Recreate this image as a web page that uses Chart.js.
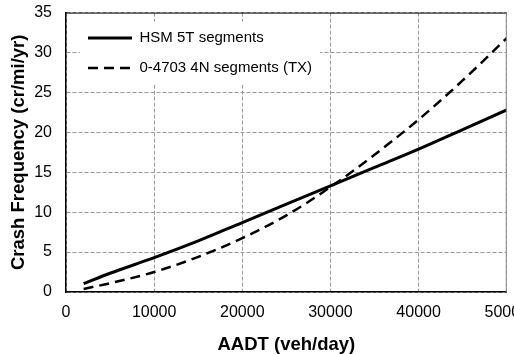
<!DOCTYPE html>
<html>
<head>
<meta charset="utf-8">
<script src="https://cdn.jsdelivr.net/npm/chart.js@4/dist/chart.umd.min.js"></script>
<style>
html, body { margin: 0; padding: 0; background: #fff; overflow: hidden; }
#wrap { width: 540px; height: 354px; }
</style>
</head>
<body>
<div id="wrap"><canvas id="c" width="540" height="354"></canvas></div>
<script>
// ---- data ----
const aadt = [2000, 5000, 10000, 15000, 20000, 25000, 30000, 35000, 40000, 45000, 50000];
const hsm5T = [1.05, 2.35, 4.3, 6.4, 8.7, 11.0, 13.3, 15.6, 17.9, 20.35, 22.8];
const tx4N = [0.38, 1.1, 2.5, 4.4, 6.75, 9.6, 13.15, 17.2, 21.6, 26.5, 31.8];
const seriesNames = ['HSM 5T segments', '0-4703 4N segments (TX)'];
const xTitle = 'AADT (veh/day)';
const yTitle = 'Crash Frequency (cr/mi/yr)';
const xTickStep = 10000, xMin = 0, xMax = 50000;
const yTickStep = 5, yMin = 0, yMax = 35;

const toPts = (xs, ys) => xs.map((x, i) => ({ x: x, y: ys[i] }));

const FONT = "'Liberation Sans', Arial, sans-serif";

const legendBoxPlugin = {
  id: 'legendBox',
  afterLayout(chart) {
    const lg = chart.legend, a = chart.chartArea;
    if (lg) {
      lg.left = a.left + 7;
      lg.top = a.top + 3;
      lg.right = lg.left + lg.width;
      lg.bottom = lg.top + lg.height;
    }
  },
  afterDraw(chart) {
    const ctx = chart.ctx, a = chart.chartArea;
    ctx.save();
    ctx.lineWidth = 1;
    ctx.strokeStyle = '#000';
    ctx.beginPath(); ctx.moveTo(a.left, a.top + 0.5); ctx.lineTo(a.right, a.top + 0.5); ctx.stroke();
    ctx.strokeStyle = '#888';
    ctx.beginPath(); ctx.moveTo(a.right - 0.5, a.top); ctx.lineTo(a.right - 0.5, a.bottom); ctx.stroke();
    const hb = chart.legend && chart.legend.legendHitBoxes;
    if (hb && hb.length) {
      let l = Infinity, t = Infinity, r = -Infinity, b = -Infinity;
      hb.forEach(h => { l = Math.min(l, h.left); t = Math.min(t, h.top); r = Math.max(r, h.left + h.width); b = Math.max(b, h.top + h.height); });
      ctx.fillStyle = '#fff';
      ctx.fillRect(l - 8, t - 9, (r - l) + 16, (b - t) + 18);
      ctx.restore();
      chart.legend.draw();
    } else {
      ctx.restore();
    }
  }
};

new Chart(document.getElementById('c'), {
  type: 'line',
  data: {
    datasets: [
      {
        label: seriesNames[0],
        data: toPts(aadt, hsm5T),
        borderColor: '#000',
        backgroundColor: '#000',
        borderWidth: 3,
        pointRadius: 0,
        cubicInterpolationMode: 'monotone',
        fill: false
      },
      {
        label: seriesNames[1],
        data: toPts(aadt, tx4N),
        borderColor: '#000',
        backgroundColor: '#000',
        borderWidth: 2.5,
        borderDash: [10, 6],
        pointRadius: 0,
        cubicInterpolationMode: 'monotone',
        fill: false
      }
    ]
  },
  options: {
    responsive: false,
    devicePixelRatio: 1,
    animation: false,
    layout: { padding: { left: 0, top: 0, right: 16, bottom: 0 } },
    plugins: {
      legend: {
        position: 'chartArea',
        align: 'start',
        fullSize: false,
        labels: {
          usePointStyle: true,
          pointStyle: 'line',
          pointStyleWidth: 44,
          padding: 15,
          color: '#000',
          font: { family: FONT, size: 15 },
          generateLabels(chart) {
            const items = Chart.defaults.plugins.legend.labels.generateLabels(chart);
            items.forEach(it => {
              const ds = chart.data.datasets[it.datasetIndex];
              it.lineDash = ds.borderDash || [];
              it.lineWidth = ds.borderWidth;
              it.strokeStyle = ds.borderColor;
              it.pointStyle = 'line';
            });
            return items;
          }
        }
      },
      tooltip: { enabled: false }
    },
    scales: {
      x: {
        type: 'linear',
        min: xMin, max: xMax,
        afterFit(s) { s.height = 62; },
        ticks: { stepSize: xTickStep, padding: 11, color: '#000', maxRotation: 0, font: { family: FONT, size: 16 },
                 callback: (v) => String(v) },
        grid: { color: '#999', lineWidth: 1, drawTicks: false },
        border: { display: true, color: '#000', width: 1.5, dash: [4, 2] },
        title: { display: true, text: xTitle, color: '#000', padding: { top: 0, bottom: 0 }, font: { family: FONT, size: 18.5, weight: 'bold', lineHeight: 1 } }
      },
      y: {
        min: yMin, max: yMax,
        afterFit(s) { s.width = 66; },
        ticks: { stepSize: yTickStep, padding: 3, color: '#000', font: { family: FONT, size: 16 },
                 callback: (v) => String(v) },
        grid: { color: '#999', lineWidth: 1, drawTicks: true, tickLength: 11, tickColor: 'rgba(0,0,0,0)' },
        border: { display: true, color: '#000', width: 1.5, dash: [4, 2] },
        title: { display: true, text: yTitle, color: '#000', padding: { top: 8, bottom: 0 }, font: { family: FONT, size: 18.5, weight: 'bold', lineHeight: 1.2 } }
      }
    }
  },
  plugins: [legendBoxPlugin]
});
</script>
</body>
</html>
